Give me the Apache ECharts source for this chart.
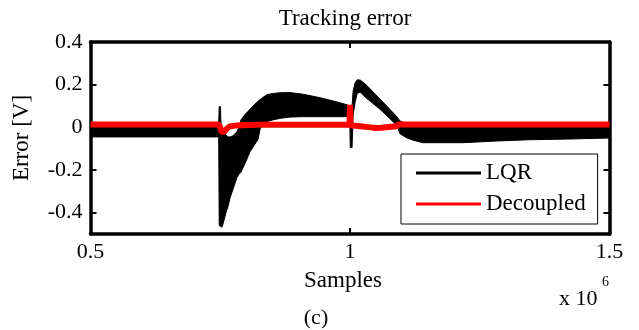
<!DOCTYPE html>
<html>
<head>
<meta charset="utf-8">
<script src="https://cdn.jsdelivr.net/npm/echarts@6/dist/echarts.min.js"></script>
<style>
  html, body { margin: 0; padding: 0; background: #fff; }
  #chart { width: 639px; height: 330px; }
</style>
</head>
<body>
<div id="chart"></div>
<script>
// LQR tracking error: fast oscillation shown as an envelope band (upper / lower edge per sample)
const lqrSamples = [
  500000, 747000, 748000, 750500, 751500, 754000, 761000, 765000, 769000, 774600,
  782300, 786000, 790000, 797700, 803500, 807300, 815000, 822700, 826600, 832000,
  840100, 852000, 865100, 884400, 910000, 942200, 970000, 994200, 999500, 1000500,
  1003000, 1004000, 1006000, 1010000, 1014000, 1020000, 1030000, 1057800, 1075000, 1090600,
  1096300, 1110000, 1121400, 1140700, 1217700, 1283200, 1346800, 1420000, 1500000
];
const lqrUpper = [
  0.020, 0.020, 0.097, 0.097, 0.000, -0.020, -0.035, -0.045, -0.045, -0.040,
  -0.020, 0.000, 0.035, 0.060, 0.075, 0.085, 0.105, 0.122, 0.130, 0.140,
  0.153, 0.159, 0.162, 0.163, 0.155, 0.139, 0.122, 0.106, 0.100, 0.100,
  0.100, 0.100, 0.170, 0.210, 0.223, 0.221, 0.202, 0.133, 0.089, 0.049,
  0.030, 0.015, 0.015, 0.015, 0.015, 0.015, 0.015, 0.015, 0.015
];
const lqrLower = [
  -0.045, -0.045, -0.460, -0.465, -0.468, -0.465, -0.400, -0.370, -0.330, -0.290,
  -0.235, -0.220, -0.210, -0.170, -0.137, -0.115, -0.085, -0.058, -0.010, 0.015,
  0.027, 0.035, 0.042, 0.048, 0.050, 0.050, 0.050, 0.050, 0.050, -0.095,
  -0.095, -0.095, 0.060, 0.120, 0.160, 0.165, 0.140, 0.085, 0.045, 0.008,
  -0.030, -0.050, -0.060, -0.072, -0.072, -0.064, -0.058, -0.055, -0.050
];

// Decoupled controller tracking error
const decSamples = [
  500000, 747500, 750000, 752500, 755000, 758000, 762000, 768000, 778000, 790000,
  820000, 999000, 1000000, 1001000, 1003000, 1020000, 1035000, 1050000, 1060000, 1075000,
  1090000, 1094000, 1500000
];
const decValues = [
  0.013, 0.013, 0.000, -0.022, -0.025, -0.020, -0.008, 0.004, 0.008, 0.010,
  0.012, 0.012, 0.105, 0.010, 0.008, 0.005, 0.001, -0.003, -0.002, 0.002,
  0.005, 0.013, 0.013
];

const xTicks = [500000, 1000000, 1500000];
const yTicks = [-0.4, -0.2, 0, 0.2, 0.4];

const serif = '"Liberation Serif", "Times New Roman", serif';

const chart = echarts.init(document.getElementById('chart'), null, { renderer: 'canvas' });

const tickStyle = { inside: true, length: 6, lineStyle: { color: '#000', width: 2 } };
const axisLineStyle = { show: true, onZero: false, lineStyle: { color: '#000', width: 3.5 } };

chart.setOption({
  animation: false,
  backgroundColor: '#fff',
  grid: { left: 90.5, top: 42, width: 519, height: 192, containLabel: false },
  legend: {
    orient: 'vertical',
    left: 401, top: 154,
    padding: [7, 12, 8, 15],
    itemGap: 7,
    itemWidth: 65, itemHeight: 3,
    borderColor: '#000', borderWidth: 1, borderRadius: 0,
    backgroundColor: '#fff',
    itemStyle: { borderWidth: 0 },
    textStyle: { fontFamily: serif, fontSize: 23, color: '#000', lineHeight: 24 },
    data: [{ name: 'LQR', icon: 'rect' }, { name: 'Decoupled', icon: 'rect' }]
  },
  xAxis: [
    {
      type: 'value', position: 'bottom',
      min: xTicks[0], max: xTicks[xTicks.length - 1], interval: 500000,
      axisLine: axisLineStyle,
      axisTick: tickStyle,
      splitLine: { show: false },
      axisLabel: {
        fontFamily: serif, fontSize: 22, color: '#000', margin: 7,
        formatter: v => String(v / 1e6)
      },
      name: 'Samples', nameLocation: 'middle', nameGap: 35,
      nameTextStyle: { fontFamily: serif, fontSize: 23, color: '#000', padding: [0, 14, 0, 0] }
    },
    {
      type: 'value', position: 'top',
      min: xTicks[0], max: xTicks[xTicks.length - 1], interval: 500000,
      axisLine: axisLineStyle,
      axisTick: tickStyle,
      splitLine: { show: false },
      axisLabel: { show: false }
    }
  ],
  yAxis: [
    {
      type: 'value', position: 'left',
      min: -0.5, max: 0.4,
      axisLine: axisLineStyle,
      axisTick: Object.assign({ customValues: yTicks }, tickStyle),
      splitLine: { show: false },
      axisLabel: {
        customValues: yTicks,
        fontFamily: serif, fontSize: 22, color: '#000', margin: 8,
        formatter: v => String(v)
      },
      name: 'Error [V]', nameLocation: 'middle', nameRotate: 90, nameGap: 57,
      nameTextStyle: { fontFamily: serif, fontSize: 23, color: '#000' }
    },
    {
      type: 'value', position: 'right',
      min: -0.5, max: 0.4,
      axisLine: axisLineStyle,
      axisTick: Object.assign({ customValues: yTicks }, tickStyle),
      splitLine: { show: false },
      axisLabel: { show: false }
    }
  ],
  graphic: [
    {
      type: 'text', x: 345, y: 19,
      style: { text: 'Tracking error', fontFamily: serif, fontSize: 23, fill: '#000', align: 'center', verticalAlign: 'middle' }
    },
    {
      type: 'text', x: 559, y: 299,
      style: { text: 'x 10', fontFamily: serif, fontSize: 22, fill: '#000', align: 'left', verticalAlign: 'middle' }
    },
    {
      type: 'text', x: 602, y: 282,
      style: { text: '6', fontFamily: serif, fontSize: 14, fill: '#000', align: 'left', verticalAlign: 'middle' }
    },
    {
      type: 'text', x: 316, y: 318,
      style: { text: '(c)', fontFamily: serif, fontSize: 22, fill: '#000', align: 'center', verticalAlign: 'middle' }
    }
  ],
  series: [
    {
      name: 'LQR',
      type: 'custom',
      xAxisIndex: 0, yAxisIndex: 0,
      clip: true,
      itemStyle: { color: '#000' },
      data: [[1000000, 0]],
      renderItem: function (params, api) {
        const pts = [];
        for (let i = 0; i < lqrSamples.length; i++) {
          pts.push(api.coord([lqrSamples[i], lqrUpper[i]]));
        }
        for (let i = lqrSamples.length - 1; i >= 0; i--) {
          pts.push(api.coord([lqrSamples[i], lqrLower[i]]));
        }
        return {
          type: 'polygon',
          shape: { points: pts },
          style: { fill: '#000', stroke: '#000', lineWidth: 1 }
        };
      }
    },
    {
      name: 'Decoupled',
      type: 'line',
      xAxisIndex: 0, yAxisIndex: 0,
      showSymbol: false,
      symbol: 'none',
      clip: true,
      color: '#ff0000',
      lineStyle: { color: '#ff0000', width: 6 },
      data: decSamples.map((s, i) => [s, decValues[i]])
    }
  ]
});
</script>
</body>
</html>
